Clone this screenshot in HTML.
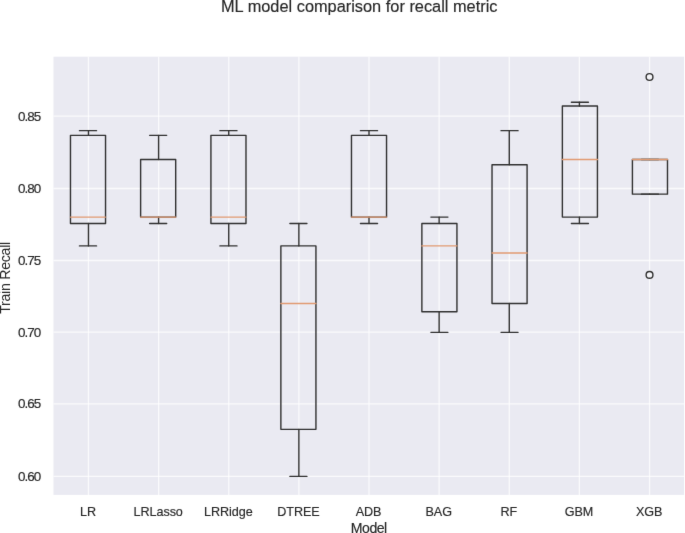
<!DOCTYPE html>
<html><head><meta charset="utf-8"><title>ML model comparison for recall metric</title>
<style>
html,body{margin:0;padding:0;background:#fff;}
body{width:685px;height:533px;overflow:hidden;}
svg{display:block;}
text{font-family:"Liberation Sans",Arial,sans-serif;fill:#262626;stroke:#262626;stroke-width:0.15px;}
</style></head>
<body>
<svg width="685" height="533" viewBox="0 0 685 533">
<defs><filter id="b" x="0" y="0" width="685" height="533" filterUnits="userSpaceOnUse" color-interpolation-filters="sRGB"><feConvolveMatrix order="3" kernelMatrix="0.0052 0.0619 0.0052 0.0619 0.7314 0.0619 0.0052 0.0619 0.0052" preserveAlpha="true" edgeMode="duplicate"/></filter></defs>
<g filter="url(#b)">
<rect width="685" height="533" fill="#fff"/>
<rect x="53.5" y="56.7" width="630.60" height="438.20" fill="#eaeaf2"/>
<line x1="53.5" x2="684.1" y1="476.45" y2="476.45" stroke="#fff" stroke-width="1.3" stroke-opacity="0.75"/>
<line x1="53.5" x2="684.1" y1="403.8" y2="403.8" stroke="#fff" stroke-width="1.3" stroke-opacity="0.75"/>
<line x1="53.5" x2="684.1" y1="332.2" y2="332.2" stroke="#fff" stroke-width="1.3" stroke-opacity="0.75"/>
<line x1="53.5" x2="684.1" y1="260.5" y2="260.5" stroke="#fff" stroke-width="1.3" stroke-opacity="0.75"/>
<line x1="53.5" x2="684.1" y1="188.5" y2="188.5" stroke="#fff" stroke-width="1.3" stroke-opacity="0.75"/>
<line x1="53.5" x2="684.1" y1="116.2" y2="116.2" stroke="#fff" stroke-width="1.3" stroke-opacity="0.75"/>
<line x1="88.47" x2="88.47" y1="56.7" y2="494.9" stroke="#fff" stroke-width="1.3" stroke-opacity="0.75"/>
<line x1="158.60" x2="158.60" y1="56.7" y2="494.9" stroke="#fff" stroke-width="1.3" stroke-opacity="0.75"/>
<line x1="228.74" x2="228.74" y1="56.7" y2="494.9" stroke="#fff" stroke-width="1.3" stroke-opacity="0.75"/>
<line x1="298.87" x2="298.87" y1="56.7" y2="494.9" stroke="#fff" stroke-width="1.3" stroke-opacity="0.75"/>
<line x1="369.00" x2="369.00" y1="56.7" y2="494.9" stroke="#fff" stroke-width="1.3" stroke-opacity="0.75"/>
<line x1="439.13" x2="439.13" y1="56.7" y2="494.9" stroke="#fff" stroke-width="1.3" stroke-opacity="0.75"/>
<line x1="509.27" x2="509.27" y1="56.7" y2="494.9" stroke="#fff" stroke-width="1.3" stroke-opacity="0.75"/>
<line x1="579.40" x2="579.40" y1="56.7" y2="494.9" stroke="#fff" stroke-width="1.3" stroke-opacity="0.75"/>
<line x1="649.53" x2="649.53" y1="56.7" y2="494.9" stroke="#fff" stroke-width="1.3" stroke-opacity="0.75"/>
<g stroke="#303030" stroke-width="1.4" fill="none" stroke-linecap="round" stroke-linejoin="round"><line x1="88.47" x2="88.47" y1="223.56" y2="245.90"/><line x1="88.47" x2="88.47" y1="135.36" y2="130.66"/><line x1="79.48" x2="96.52" y1="245.90" y2="245.90"/><line x1="79.48" x2="96.52" y1="130.66" y2="130.66"/><rect x="70.47" y="135.36" width="35.07" height="88.20"/></g>
<line x1="70.47" x2="105.53" y1="217.09" y2="217.09" stroke="#e19a72" stroke-width="1.4" stroke-linecap="round"/>
<g stroke="#303030" stroke-width="1.4" fill="none" stroke-linecap="round" stroke-linejoin="round"><line x1="158.60" x2="158.60" y1="217.09" y2="223.56"/><line x1="158.60" x2="158.60" y1="159.47" y2="135.36"/><line x1="149.63" x2="166.67" y1="223.56" y2="223.56"/><line x1="149.63" x2="166.67" y1="135.36" y2="135.36"/><rect x="140.62" y="159.47" width="35.07" height="57.62"/></g>
<line x1="140.62" x2="175.68" y1="217.09" y2="217.09" stroke="#e19a72" stroke-width="1.4" stroke-linecap="round"/>
<g stroke="#303030" stroke-width="1.4" fill="none" stroke-linecap="round" stroke-linejoin="round"><line x1="228.74" x2="228.74" y1="223.56" y2="245.90"/><line x1="228.74" x2="228.74" y1="135.36" y2="130.66"/><line x1="219.93" x2="236.97" y1="245.90" y2="245.90"/><line x1="219.93" x2="236.97" y1="130.66" y2="130.66"/><rect x="210.92" y="135.36" width="35.07" height="88.20"/></g>
<line x1="210.92" x2="245.98" y1="217.09" y2="217.09" stroke="#e19a72" stroke-width="1.4" stroke-linecap="round"/>
<g stroke="#303030" stroke-width="1.4" fill="none" stroke-linecap="round" stroke-linejoin="round"><line x1="298.87" x2="298.87" y1="429.36" y2="476.40"/><line x1="298.87" x2="298.87" y1="245.90" y2="223.56"/><line x1="289.88" x2="306.92" y1="476.40" y2="476.40"/><line x1="289.88" x2="306.92" y1="223.56" y2="223.56"/><rect x="280.87" y="245.90" width="35.07" height="183.46"/></g>
<line x1="280.87" x2="315.93" y1="303.53" y2="303.53" stroke="#e19a72" stroke-width="1.4" stroke-linecap="round"/>
<g stroke="#303030" stroke-width="1.4" fill="none" stroke-linecap="round" stroke-linejoin="round"><line x1="369.00" x2="369.00" y1="217.09" y2="223.56"/><line x1="369.00" x2="369.00" y1="135.36" y2="130.66"/><line x1="360.48" x2="377.52" y1="223.56" y2="223.56"/><line x1="360.48" x2="377.52" y1="130.66" y2="130.66"/><rect x="351.47" y="135.36" width="35.07" height="81.73"/></g>
<line x1="351.47" x2="386.53" y1="217.09" y2="217.09" stroke="#e19a72" stroke-width="1.4" stroke-linecap="round"/>
<g stroke="#303030" stroke-width="1.4" fill="none" stroke-linecap="round" stroke-linejoin="round"><line x1="439.13" x2="439.13" y1="311.76" y2="332.34"/><line x1="439.13" x2="439.13" y1="223.56" y2="217.09"/><line x1="430.88" x2="447.92" y1="332.34" y2="332.34"/><line x1="430.88" x2="447.92" y1="217.09" y2="217.09"/><rect x="421.87" y="223.56" width="35.07" height="88.20"/></g>
<line x1="421.87" x2="456.93" y1="245.90" y2="245.90" stroke="#e19a72" stroke-width="1.4" stroke-linecap="round"/>
<g stroke="#303030" stroke-width="1.4" fill="none" stroke-linecap="round" stroke-linejoin="round"><line x1="509.27" x2="509.27" y1="303.53" y2="332.34"/><line x1="509.27" x2="509.27" y1="164.76" y2="130.66"/><line x1="501.03" x2="518.07" y1="332.34" y2="332.34"/><line x1="501.03" x2="518.07" y1="130.66" y2="130.66"/><rect x="492.02" y="164.76" width="35.07" height="138.77"/></g>
<line x1="492.02" x2="527.08" y1="252.96" y2="252.96" stroke="#e19a72" stroke-width="1.4" stroke-linecap="round"/>
<g stroke="#303030" stroke-width="1.4" fill="none" stroke-linecap="round" stroke-linejoin="round"><line x1="579.40" x2="579.40" y1="217.09" y2="223.56"/><line x1="579.40" x2="579.40" y1="105.96" y2="102.30"/><line x1="571.38" x2="588.42" y1="223.56" y2="223.56"/><line x1="571.38" x2="588.42" y1="102.30" y2="102.30"/><rect x="562.37" y="105.96" width="35.07" height="111.13"/></g>
<line x1="562.37" x2="597.43" y1="159.47" y2="159.47" stroke="#e19a72" stroke-width="1.4" stroke-linecap="round"/>
<g stroke="#303030" stroke-width="1.4" fill="none" stroke-linecap="round" stroke-linejoin="round"><line x1="649.53" x2="649.53" y1="194.16" y2="194.16"/><line x1="649.53" x2="649.53" y1="159.47" y2="159.47"/><line x1="641.43" x2="658.47" y1="194.16" y2="194.16"/><line x1="641.43" x2="658.47" y1="159.47" y2="159.47"/><rect x="632.42" y="159.47" width="35.07" height="34.69"/></g>
<line x1="632.42" x2="667.48" y1="159.47" y2="159.47" stroke="#e19a72" stroke-width="1.4" stroke-linecap="round"/>
<circle cx="649.53" cy="77.00" r="3.4" fill="#f4f4f8" stroke="#303030" stroke-width="1.4"/>
<circle cx="649.53" cy="274.90" r="3.4" fill="#f4f4f8" stroke="#303030" stroke-width="1.4"/>
<text x="41.30" y="480.85" text-anchor="end" font-size="13.4" textLength="23.35" lengthAdjust="spacing">0.60</text>
<text x="41.30" y="408.20" text-anchor="end" font-size="13.4" textLength="23.35" lengthAdjust="spacing">0.65</text>
<text x="41.30" y="336.60" text-anchor="end" font-size="13.4" textLength="23.35" lengthAdjust="spacing">0.70</text>
<text x="41.30" y="264.90" text-anchor="end" font-size="13.4" textLength="23.35" lengthAdjust="spacing">0.75</text>
<text x="41.30" y="192.90" text-anchor="end" font-size="13.4" textLength="23.35" lengthAdjust="spacing">0.80</text>
<text x="41.30" y="120.60" text-anchor="end" font-size="13.4" textLength="23.35" lengthAdjust="spacing">0.85</text>
<text x="88.07" y="515.50" text-anchor="middle" font-size="12.6" textLength="15.98" lengthAdjust="spacing">LR</text>
<text x="158.20" y="515.50" text-anchor="middle" font-size="12.6" textLength="49.33" lengthAdjust="spacing">LRLasso</text>
<text x="228.34" y="515.50" text-anchor="middle" font-size="12.6" textLength="48.64" lengthAdjust="spacing">LRRidge</text>
<text x="298.47" y="515.50" text-anchor="middle" font-size="12.6" textLength="42.37" lengthAdjust="spacing">DTREE</text>
<text x="368.60" y="515.50" text-anchor="middle" font-size="12.6" textLength="25.70" lengthAdjust="spacing">ADB</text>
<text x="438.74" y="515.50" text-anchor="middle" font-size="12.6" textLength="26.40" lengthAdjust="spacing">BAG</text>
<text x="508.87" y="515.50" text-anchor="middle" font-size="12.6" textLength="16.66" lengthAdjust="spacing">RF</text>
<text x="579.00" y="515.50" text-anchor="middle" font-size="12.6" textLength="28.47" lengthAdjust="spacing">GBM</text>
<text x="649.13" y="515.50" text-anchor="middle" font-size="12.6" textLength="26.40" lengthAdjust="spacing">XGB</text>
<text x="369.00" y="532.80" text-anchor="middle" font-size="14.1" textLength="36.48" lengthAdjust="spacing">Model</text>
<g transform="translate(10,277.8) rotate(-90)"><text x="0.00" y="0.00" text-anchor="middle" font-size="14.1" textLength="72.05" lengthAdjust="spacing" style="stroke-width:0">Train Recall</text></g>
<text x="221.00" y="11.80" font-size="16.35" textLength="276.50" lengthAdjust="spacing">ML model comparison for recall metric</text>
</g>
</svg>
</body></html>
